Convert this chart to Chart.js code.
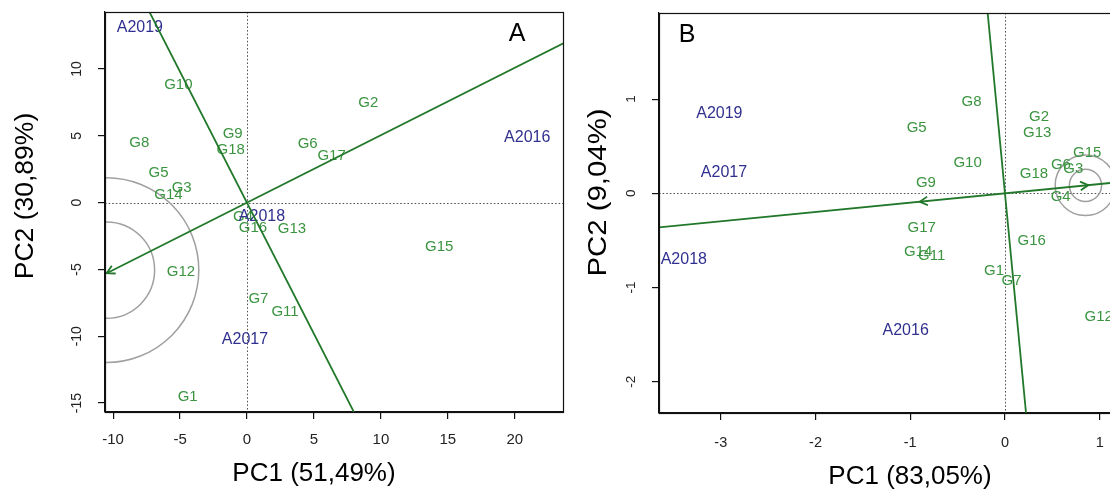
<!DOCTYPE html>
<html><head><meta charset="utf-8">
<script src="https://cdn.jsdelivr.net/npm/chart.js@4.4.1/dist/chart.umd.min.js"></script>
<style>
html,body{margin:0;padding:0;background:#fff;}
#wrap{position:relative;width:1110px;height:497px;overflow:hidden;background:#fff;}
#ca{position:absolute;left:0;top:0;}
#cb{position:absolute;left:570px;top:0;}
</style></head><body>
<div id="wrap">
<canvas id="ca" width="570" height="497"></canvas>
<canvas id="cb" width="640" height="497"></canvas>
</div>
<script>
// ---------- shared ----------
const genoNames = ['G1','G2','G3','G4','G5','G6','G7','G8','G9','G10','G11','G12','G13','G14','G15','G16','G17','G18'];
const envNames = ['A2016','A2017','A2018','A2019'];

// ---------- Panel A ----------
const genoAX = [-4.43, 9.06, -4.88, -0.3, -6.6, 4.53, 0.85, -8.04, -1.07, -5.13, 2.84, -4.93, 3.36, -5.87, 14.36, 0.45, 6.32, -1.22];
const genoAY = [-14.52, 7.44, 1.12, -1.05, 2.2, 4.39, -7.23, 4.49, 5.14, 8.81, -8.16, -5.16, -1.97, 0.58, -3.29, -1.92, 3.52, 3.94];
const envAX = [20.93, -0.15, 1.12, -8.0];
const envAY = [4.9, -10.28, -1.07, 13.1];
const xTicksA = [-10, -5, 0, 5, 10, 15, 20];
const yTicksA = [-15, -10, -5, 0, 5, 10];
const aecAX = [-10.48, 24.0];
const aecAY = [-5.28, 12.12];
const perpAX = [-7.45, 8.05];
const perpAY = [14.6, -15.8];
const arrowAX = [-10.48];
const arrowAY = [-5.28];
const circleCenterA = [-10.5, -5.05];
const circleRadiiA = [3.6, 6.9];
const rangeAX = [-10.605, 23.6];
const rangeAY = [-15.67, 14.27];

// ---------- Panel B ----------
const genoBX = [-0.116, 0.359, 0.721, 0.588, -0.932, 0.591, 0.07, -0.352, -0.834, -0.394, -0.774, 0.99, 0.341, -0.915, 0.869, 0.282, -0.879, 0.306];
const genoBY = [-0.825, 0.807, 0.255, -0.036, 0.70, 0.30, -0.928, 0.972, 0.106, 0.318, -0.666, -1.316, 0.643, -0.62, 0.425, -0.503, -0.365, 0.205];
const envBX = [-1.048, -2.966, -3.39, -3.015];
const envBY = [-1.459, 0.223, -0.708, 0.85];
const xTicksB = [-3, -2, -1, 0, 1];
const yTicksB = [-2, -1, 0, 1];
const aecBX = [-3.7, 1.8];
const aecBY = [-0.366, 0.178];
const perpBX = [-0.186, 0.229];
const perpBY = [1.95, -2.4];
const arrowBX = [0.88, -0.9];
const arrowBY = [0.087, -0.089];
const circleCenterB = [0.85, 0.085];
const circleRadiiB = [0.17, 0.32];
const rangeBX = [-3.652, 1.7];
const rangeBY = [-2.332, 1.914];

// ---------- styling ----------
const FONT = '"Liberation Sans", Arial, Helvetica, sans-serif';
const GREEN_TXT = '#3b9440';
const GREEN_LINE = '#22782a';
const BLUE_TXT = '#30308f';

function pts(xs, ys){ return xs.map((x,i)=>({x:x, y:ys[i]})); }

function makeBiplot(id, p){
  const canvas = document.getElementById(id);
  const W = canvas.width, H = canvas.height;
  const decor = {
    id: 'decor_' + id,
    beforeDatasetsDraw(chart){
      const ctx = chart.ctx, a = chart.chartArea;
      const xs = chart.scales.x, ys = chart.scales.y;
      ctx.save();
      ctx.beginPath(); ctx.rect(a.left, a.top, a.right-a.left, a.bottom-a.top); ctx.clip();
      // zero dotted lines
      ctx.strokeStyle = '#555'; ctx.lineWidth = 1; ctx.setLineDash([1.6, 2]);
      const x0 = Math.round(xs.getPixelForValue(0)) + 0.5, y0 = Math.round(ys.getPixelForValue(0)) + 0.5;
      ctx.beginPath(); ctx.moveTo(x0, a.top); ctx.lineTo(x0, a.bottom); ctx.stroke();
      ctx.beginPath(); ctx.moveTo(a.left, y0); ctx.lineTo(a.right, y0); ctx.stroke();
      ctx.setLineDash([]);
      // circles
      ctx.strokeStyle = '#a0a0a0'; ctx.lineWidth = 1.5;
      const cx = xs.getPixelForValue(p.circleCenter[0]), cy = ys.getPixelForValue(p.circleCenter[1]);
      p.circleRadii.forEach(r => {
        const rp = Math.abs(xs.getPixelForValue(p.circleCenter[0] + r) - cx);
        ctx.beginPath(); ctx.arc(cx, cy, rp, 0, Math.PI*2); ctx.stroke();
      });
      // text labels
      ctx.textAlign = 'center'; ctx.textBaseline = 'middle';
      const mg = chart.getDatasetMeta(2), me = chart.getDatasetMeta(3);
      ctx.font = '15px ' + FONT; ctx.fillStyle = GREEN_TXT;
      mg.data.forEach((el, j) => ctx.fillText(genoNames[j], el.x, el.y));
      ctx.font = '16px ' + FONT; ctx.fillStyle = BLUE_TXT;
      me.data.forEach((el, j) => ctx.fillText(envNames[j], el.x, el.y));
      ctx.restore();
    },
    afterDatasetsDraw(chart){
      const ctx = chart.ctx, a = chart.chartArea;
      const xs = chart.scales.x, ys = chart.scales.y;
      ctx.save();
      // arrows
      ctx.strokeStyle = GREEN_LINE; ctx.lineWidth = 1.8;
      const ox = xs.getPixelForValue(0), oy = ys.getPixelForValue(0);
      p.arrowX.forEach((ax, i) => {
        const tx = xs.getPixelForValue(ax), ty = ys.getPixelForValue(p.arrowY[i]);
        const ang = Math.atan2(ty - oy, tx - ox), L = 9, th = 0.5;
        ctx.beginPath();
        ctx.moveTo(tx - L*Math.cos(ang - th), ty - L*Math.sin(ang - th));
        ctx.lineTo(tx, ty);
        ctx.lineTo(tx - L*Math.cos(ang + th), ty - L*Math.sin(ang + th));
        ctx.stroke();
      });
      // box
      ctx.strokeStyle = '#111'; ctx.lineWidth = 1.2;
      ctx.strokeRect(Math.round(a.left)+0.5, Math.round(a.top)+0.5, Math.round(a.right-a.left), Math.round(a.bottom-a.top));
      // tick labels
      ctx.fillStyle = '#222'; ctx.textAlign = 'center'; ctx.textBaseline = 'middle';
      ctx.font = p.xTickFont + 'px ' + FONT;
      xs.ticks.forEach(t => ctx.fillText(String(t.value), xs.getPixelForValue(t.value), a.bottom + p.xTickOff));
      ctx.font = p.yTickFont + 'px ' + FONT;
      ys.ticks.forEach(t => {
        ctx.save();
        ctx.translate(a.left - p.yTickOff, ys.getPixelForValue(t.value));
        ctx.rotate(-Math.PI/2);
        ctx.fillText(String(t.value), 0, 0);
        ctx.restore();
      });
      // titles
      ctx.fillStyle = '#000';
      p.titles.forEach(tt => {
        ctx.save();
        ctx.font = tt.size + 'px ' + FONT;
        ctx.translate(tt.x, tt.y);
        ctx.rotate(tt.rot);
        ctx.scale(tt.k, 1);
        ctx.fillText(tt.text, 0, 0);
        ctx.restore();
      });
      ctx.restore();
    }
  };
  return new Chart(canvas, {
    type: 'scatter',
    data: {
      datasets: [
        {data: pts(p.perpX, p.perpY), showLine: true, borderColor: GREEN_LINE, borderWidth: 1.8, pointRadius: 0, clip: 0},
        {data: pts(p.aecX, p.aecY), showLine: true, borderColor: GREEN_LINE, borderWidth: 1.8, pointRadius: 0, clip: 0},
        {data: pts(p.genoX, p.genoY), pointRadius: 0, showLine: false},
        {data: pts(p.envX, p.envY), pointRadius: 0, showLine: false}
      ]
    },
    options: {
      responsive: false, animation: false, devicePixelRatio: 1,
      layout: {padding: {left: 0, top: p.box.top, right: W - p.box.right, bottom: 0}},
      plugins: {legend: {display: false}, tooltip: {enabled: false}},
      events: [],
      scales: {
        x: {
          type: 'linear', position: 'bottom', min: p.rangeX[0], max: p.rangeX[1],
          afterBuildTicks: s => { s.ticks = p.xTicks.map(v => ({value: v})); },
          afterFit: s => { s.height = H - p.box.bottom; },
          ticks: {display: false},
          grid: {drawOnChartArea: false, drawTicks: true, tickLength: 7, color: '#111', lineWidth: 1.2},
          border: {display: true, color: '#111', width: 1.2}
        },
        y: {
          type: 'linear', position: 'left', min: p.rangeY[0], max: p.rangeY[1],
          afterBuildTicks: s => { s.ticks = p.yTicks.map(v => ({value: v})); },
          afterFit: s => { s.width = p.box.left; },
          ticks: {display: false},
          grid: {drawOnChartArea: false, drawTicks: true, tickLength: 7, color: '#111', lineWidth: 1.2},
          border: {display: true, color: '#111', width: 1.2}
        }
      }
    },
    plugins: [decor]
  });
}

makeBiplot('ca', {
  box: {left: 105, top: 12, right: 563, bottom: 412},
  rangeX: rangeAX, rangeY: rangeAY, xTicks: xTicksA, yTicks: yTicksA,
  genoX: genoAX, genoY: genoAY, envX: envAX, envY: envAY,
  aecX: aecAX, aecY: aecAY, perpX: perpAX, perpY: perpAY,
  arrowX: arrowAX, arrowY: arrowAY,
  circleCenter: circleCenterA, circleRadii: circleRadiiA,
  xTickFont: 15, yTickFont: 14, xTickOff: 28, yTickOff: 28,
  titles: [
    {text: 'PC1 (51,49%)', x: 314, y: 474, rot: 0, size: 26, k: 1},
    {text: 'PC2 (30,89%)', x: 26, y: 196, rot: -Math.PI/2, size: 25, k: 1.06},
    {text: 'A', x: 517, y: 34, rot: 0, size: 25, k: 1}
  ]
});

makeBiplot('cb', {
  box: {left: 89, top: 13, right: 596, bottom: 413},
  rangeX: rangeBX, rangeY: rangeBY, xTicks: xTicksB, yTicks: yTicksB,
  genoX: genoBX, genoY: genoBY, envX: envBX, envY: envBY,
  aecX: aecBX, aecY: aecBY, perpX: perpBX, perpY: perpBY,
  arrowX: arrowBX, arrowY: arrowBY,
  circleCenter: circleCenterB, circleRadii: circleRadiiB,
  xTickFont: 14.5, yTickFont: 13.5, xTickOff: 30, yTickOff: 28,
  titles: [
    {text: 'PC1 (83,05%)', x: 340, y: 477, rot: 0, size: 26, k: 1},
    {text: 'PC2 (9,04%)', x: 29, y: 192.5, rot: -Math.PI/2, size: 26, k: 1.13},
    {text: 'B', x: 117, y: 35, rot: 0, size: 25, k: 1}
  ]
});
</script>
</body></html>
